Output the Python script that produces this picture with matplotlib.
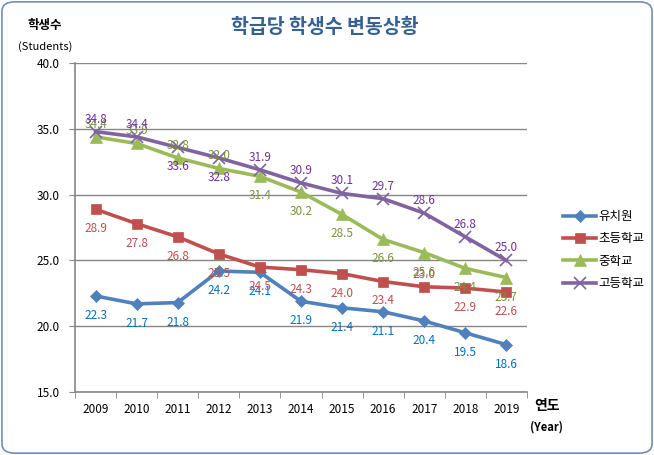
import matplotlib
matplotlib.use('Agg')
import matplotlib.pyplot as plt
from matplotlib.patches import FancyBboxPatch
import numpy as np

plt.rcParams['font.family'] = ['Noto Sans CJK KR', 'DejaVu Sans']

years = ['2009', '2010', '2011', '2012', '2013', '2014', '2015', '2016', '2017', '2018', '2019']
kinder = [22.3, 21.7, 21.8, 24.2, 24.1, 21.9, 21.4, 21.1, 20.4, 19.5, 18.6]
elementary = [28.9, 27.8, 26.8, 25.5, 24.5, 24.3, 24.0, 23.4, 23.0, 22.9, 22.6]
middle = [34.4, 33.9, 32.8, 32.0, 31.4, 30.2, 28.5, 26.6, 25.6, 24.4, 23.7]
high = [34.8, 34.4, 33.6, 32.8, 31.9, 30.9, 30.1, 29.7, 28.6, 26.8, 25.0]
names = ['유치원', '초등학교', '중학교', '고등학교']

# label placement: a = above, b = below
place = [
    'bbbbbbbbbbb',
    'bbbbbbbbabb',
    'aaaabbbbbbb',
    'aabbaaaaaaa',
]

line_colors = ['#4F81BD', '#C0504D', '#9BBB59', '#8064A2']
label_colors = ['#0070C0', '#C0504D', '#77933C', '#7030A0']
markers = ['D', 's', '^', 'x']
msizes = [6, 7.5, 8, 8]

fig = plt.figure(figsize=(6.54, 4.55), dpi=100)
ax = fig.add_axes([0.1147, 0.1385, 0.691, 0.7225])

x = np.arange(len(years))
series = [kinder, elementary, middle, high]
for i, vals in enumerate(series):
    ax.plot(x, vals, color=line_colors[i], lw=2.6, marker=markers[i],
            markersize=msizes[i], markeredgewidth=1.2 if markers[i] == 'x' else 0.5,
            markeredgecolor=line_colors[i], label=names[i], zorder=3)
    for j, v in enumerate(vals):
        dy = 9 if place[i][j] == 'a' else -14
        ax.annotate(f'{v:.1f}', (x[j], v), xytext=(0, dy), textcoords='offset points',
                    ha='center', va='center', fontsize=8.5, color=label_colors[i], zorder=4)

ax.set_xlim(-0.5, len(years) - 0.5)
ax.set_ylim(15, 40)
ax.set_yticks([15, 20, 25, 30, 35, 40])
ax.set_yticklabels([f'{t:.1f}' for t in [15, 20, 25, 30, 35, 40]], fontsize=8.5)
ax.set_xticks(x)
ax.set_xticklabels(years, fontsize=8.5)
ax.set_xticks(np.arange(-0.5, len(years)), minor=True)
ax.tick_params(axis='x', which='major', length=0, pad=8)
ax.tick_params(axis='x', which='minor', length=4, color='#868686', direction='out')
ax.tick_params(axis='y', length=4, color='#868686', pad=7)
ax.yaxis.grid(True, color='#868686', lw=1)
ax.set_axisbelow(True)
for s in ['top', 'right']:
    ax.spines[s].set_visible(False)
for s in ['left', 'bottom']:
    ax.spines[s].set_color('#868686')
    ax.spines[s].set_linewidth(1.2)

leg = fig.legend(loc='upper left', bbox_to_anchor=(0.852, 0.552), frameon=False,
                 fontsize=9, handlelength=2.6, handletextpad=0.2, labelspacing=0.75,
                 borderpad=0)

fig.text(0.497, 0.940, '학급당 학생수 변동상황', ha='center', va='center',
         fontsize=14, fontweight='bold', color='#376092')
fig.text(0.069, 0.943, '학생수', ha='center', va='center', fontsize=9, fontweight='bold')
fig.text(0.069, 0.897, '(Students)', ha='center', va='center', fontsize=8)
fig.text(0.836, 0.107, '연도', ha='center', va='center', fontsize=10, fontweight='bold')
fig.text(0.836, 0.061, '(Year)', ha='center', va='center', fontsize=8, fontweight='bold')

border = FancyBboxPatch((0.003, 0.004), 0.994, 0.992, boxstyle='round,pad=0,rounding_size=0.02',
                        transform=fig.transFigure, fill=False, edgecolor='#6F8FBF', lw=1.2)
fig.patches.append(border)

fig.savefig('out.png', dpi=100)
